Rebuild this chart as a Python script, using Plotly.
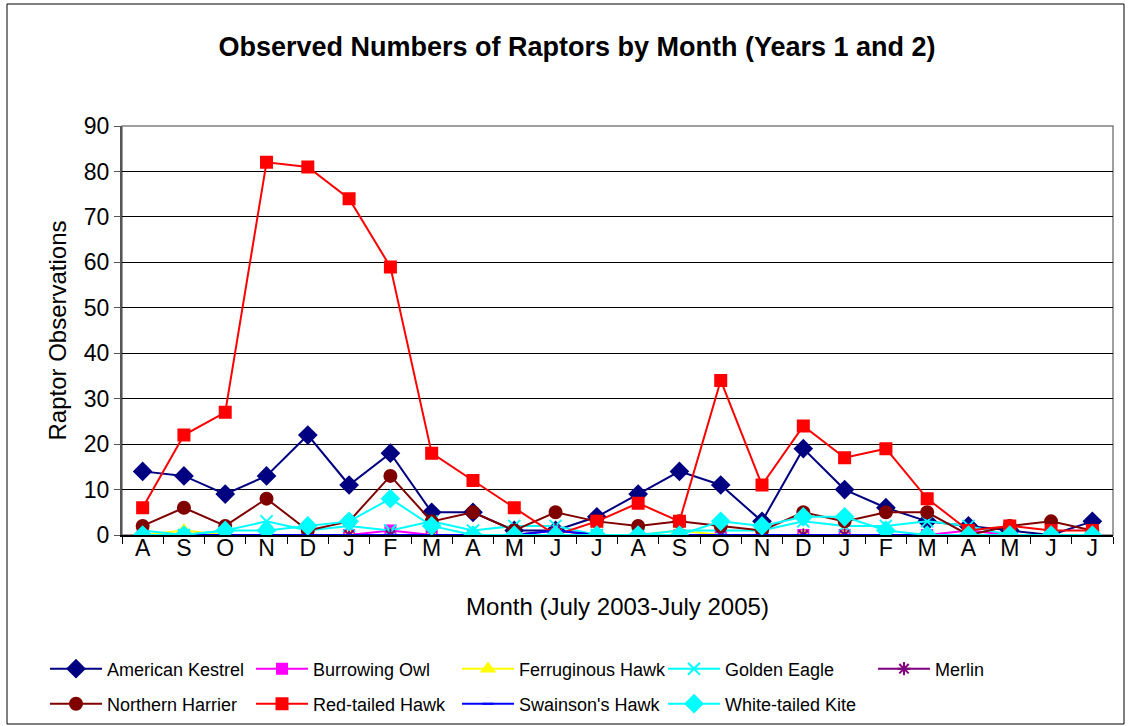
import plotly.graph_objects as go

month_keys = ["2003-08", "2003-09", "2003-10", "2003-11", "2003-12", "2004-01", "2004-02", "2004-03",
              "2004-04", "2004-05", "2004-06", "2004-07", "2004-08", "2004-09", "2004-10", "2004-11",
              "2004-12", "2005-01", "2005-02", "2005-03", "2005-04", "2005-05", "2005-06", "2005-07"]
month_labels = ["A", "S", "O", "N", "D", "J", "F", "M", "A", "M", "J", "J",
                "A", "S", "O", "N", "D", "J", "F", "M", "A", "M", "J", "J"]

american_kestrel = [14, 13, 9, 13, 22, 11, 18, 5, 5, 1, 1, 4, 9, 14, 11, 3, 19, 10, 6, 3, 2, 1, 0, 3]
burrowing_owl = [0, 0, 0, 0, 0, 0, 1, 0, 0, 0, 0, 0, 0, 0, 0, 0, 0, 0, 0, 0, 1, 0, 0, 0]
ferruginous_hawk = [0, 1, 0, 0, 0, 0, 0, 0, 0, 0, 0, 0, 0, 1, 0, 0, 0, 0, 0, 0, 0, 0, 0, 0]
golden_eagle = [1, 0, 1, 3, 1, 2, 1, 3, 1, 2, 2, 0, 0, 1, 1, 1, 3, 2, 2, 3, 2, 0, 0, 0]
merlin = [0, 0, 0, 0, 0, 0, 0, 0, 0, 0, 1, 0, 0, 0, 0, 0, 0, 0, 0, 0, 0, 0, 0, 0]
northern_harrier = [2, 6, 2, 8, 1, 3, 13, 3, 5, 1, 5, 3, 2, 3, 2, 1, 5, 3, 5, 5, 0, 2, 3, 1]
red_tailed_hawk = [6, 22, 27, 82, 81, 74, 59, 18, 12, 6, 0, 3, 7, 3, 34, 11, 24, 17, 19, 8, 1, 2, 1, 1]
swainsons_hawk = [0, 0, 0, 0, 0, 0, 0, 0, 0, 0, 1, 0, 0, 0, 0, 0, 0, 0, 0, 0, 0, 0, 0, 0]
white_tailed_kite = [0, 0, 1, 1, 2, 3, 8, 2, 0, 0, 0, 0, 0, 0, 3, 2, 4, 4, 1, 0, 0, 0, 0, 0]

series = [
    ("American Kestrel", american_kestrel, "#000080", "diamond", 13),
    ("Burrowing Owl", burrowing_owl, "#FF00FF", "square", 10),
    ("Ferruginous Hawk", ferruginous_hawk, "#FFFF00", "triangle-up", 11),
    ("Golden Eagle", golden_eagle, "#00FFFF", "x-thin-open", 12),
    ("Merlin", merlin, "#800080", "asterisk-open", 11),
    ("Northern Harrier", northern_harrier, "#800000", "circle", 12),
    ("Red-tailed Hawk", red_tailed_hawk, "#FF0000", "square", 11),
    ("Swainson's Hawk", swainsons_hawk, "#0000FF", "line-ew-open", 8),
    ("White-tailed Kite", white_tailed_kite, "#00FFFF", "diamond", 13),
]
legend_ids = ["legend", "legend", "legend", "legend", "legend3",
              "legend2", "legend2", "legend2", "legend2"]

FONT = "Liberation Sans, Arial, sans-serif"

fig = go.Figure()
for (name, vals, color, sym, size), lg in zip(series, legend_ids):
    fig.add_trace(go.Scatter(
        x=month_keys, y=vals, name=name, mode="lines+markers",
        line=dict(color=color, width=2),
        marker=dict(symbol=sym, size=size, color=color,
                    line=dict(color=color, width=2)),
        legend=lg,
    ))

COL = 207
LX = 45
legend_common = dict(orientation="h", xref="container", yref="container",
                     xanchor="left", yanchor="middle",
                     entrywidth=COL - 68, entrywidthmode="pixels", itemwidth=52,
                     font=dict(size=18, family=FONT, color="black"),
                     bgcolor="rgba(0,0,0,0)", borderwidth=0)

fig.update_layout(
    width=1131, height=726,
    paper_bgcolor="white", plot_bgcolor="white",
    margin=dict(l=122, r=18, t=126, b=191),
    font=dict(family=FONT, color="black"),
    title=dict(text="<b>Observed Numbers of Raptors by Month (Years 1 and 2)</b>",
               x=577 / 1131, xanchor="center", y=1 - 47 / 726, yanchor="middle",
               font=dict(size=27, family=FONT, color="black")),
    showlegend=True,
    legend=dict(legend_common, x=LX / 1131, y=1 - 669 / 726),
    legend3=dict(legend_common, x=(LX + 4 * COL) / 1131, y=1 - 669 / 726),
    legend2=dict(legend_common, x=LX / 1131, y=1 - 704 / 726),
    xaxis=dict(
        type="category", categoryorder="array", categoryarray=month_keys,
        tickmode="array", tickvals=month_keys, ticktext=month_labels,
        tickson="boundaries", ticks="outside", ticklen=7, tickcolor="black",
        ticklabelstandoff=-9,
        tickfont=dict(size=23, family=FONT, color="black"),
        showgrid=False, showline=True, linecolor="black", linewidth=2,
        mirror=False, range=[-0.5, 23.5],
        title=dict(text="Month (July 2003-July 2005)", standoff=39,
                   font=dict(size=24, family=FONT, color="black")),
    ),
    yaxis=dict(
        range=[0, 90], dtick=10, tick0=0,
        ticks="outside", ticklen=6, tickcolor="#555555",
        tickfont=dict(size=23, family=FONT, color="black"),
        showgrid=True, gridcolor="black", gridwidth=1,
        showline=True, linecolor="#555555", linewidth=2,
        zeroline=False,
        title=dict(text="Raptor Observations", standoff=10,
                   font=dict(size=24, family=FONT, color="black")),
    ),
)

# plot-area border (top/right) and outer chart frame
fig.add_shape(type="rect", xref="paper", yref="paper", x0=0, x1=1, y0=0, y1=1,
              line=dict(color="#808080", width=1.5), layer="below")
fig.add_shape(type="rect", xref="paper", yref="paper",
              x0=(7 - 122) / 991, x1=(1124 - 122) / 991,
              y0=(535 - 724) / 409, y1=(535 - 4) / 409,
              line=dict(color="black", width=1))

fig.write_html("out.html", config={"displayModeBar": False},
               post_script="document.body.style.margin='0';document.body.style.padding='0';")
